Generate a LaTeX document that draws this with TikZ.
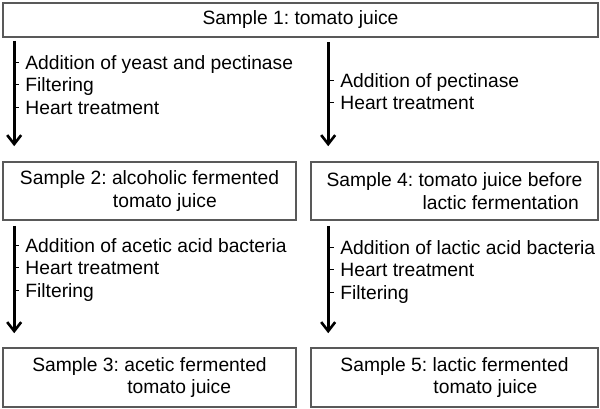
\documentclass[tikz,border=0pt]{standalone}
\usepackage{fontspec}
\setmainfont{Liberation Sans}
\usetikzlibrary{calc,arrows.meta}
\frenchspacing

\newlength{\du}
\setlength{\du}{0.5pt}
\definecolor{boxlinecolor}{rgb}{0.350000, 0.350000, 0.350000}

\tikzset{
  samplebox/.style={draw=boxlinecolor, line width=1.6\du, rectangle, inner sep=0pt,
    align=left, font=\fontsize{9.63pt}{11.25pt}\selectfont},
  flow/.style={line width=3\du, -{Straight Barb[length=4.5pt,width=7pt,line width=1.3pt]}},
  stepline/.style={anchor=base west, inner sep=0pt, font=\fontsize{9.63pt}{11.25pt}\selectfont},
  tick/.style={line width=1\du}
}

\begin{document}
\begin{tikzpicture}[x=\du,y=-\du]
\useasboundingbox (0,0) rectangle (600,408);
% sample boxes
\node[samplebox, minimum width=595\du, minimum height=34\du] (s1) at (300.5,20) {Sample 1: tomato juice};
\node[samplebox, minimum width=293\du, minimum height=58\du] (s2) at (149.5,191)
  {Sample 2: alcoholic fermented\\\hspace*{46.5pt}tomato juice};
\node[samplebox, minimum width=287\du, minimum height=58\du] (s4) at (454.5,191)
  {Sample 4: tomato juice before\\\hspace*{48pt}lactic fermentation};
\node[samplebox, minimum width=293\du, minimum height=59\du] (s3) at (149.5,377.5)
  {Sample 3: acetic fermented\\\hspace*{47.5pt}tomato juice};
\node[samplebox, minimum width=287\du, minimum height=59\du] (s5) at (454.5,377.5)
  {Sample 5: lactic fermented\\\hspace*{46.5pt}tomato juice};

% arrows
\draw[flow] ($(s1.south west)+(12,3)$) -- ($(s2.north west)+(12,-15)$);
\draw[flow] ($(s4.north west)+(18,-119)$) -- ($(s4.north west)+(18,-15)$);
\draw[flow] ($(s2.south west)+(12,5)$) -- ($(s3.north west)+(12,-14)$);
\draw[flow] ($(s4.south west)+(18,5)$) -- ($(s5.north west)+(18,-14)$);

% steps, left top
\node[stepline] (t11) at (25,69) {Addition of yeast and pectinase};
\node[stepline] (t12) at (25,91.5) {Filtering};
\node[stepline] (t13) at (25,114) {Heart treatment};
% steps, right top
\node[stepline] (t21) at (340,87) {Addition of pectinase};
\node[stepline] (t22) at (340,109.5) {Heart treatment};
% steps, left bottom
\node[stepline] (t31) at (25,252) {Addition of acetic acid bacteria};
\node[stepline] (t32) at (25,274.5) {Heart treatment};
\node[stepline] (t33) at (25,297) {Filtering};
% steps, right bottom
\node[stepline] (t41) at (340,254) {Addition of lactic acid bacteria};
\node[stepline] (t42) at (340,276.5) {Heart treatment};
\node[stepline] (t43) at (340,299) {Filtering};

% ticks
\draw[tick] ([xshift=-11\du,yshift=7\du]t11.base west) -- ++(5,0);
\draw[tick] ([xshift=-11\du,yshift=7\du]t12.base west) -- ++(5,0);
\draw[tick] ([xshift=-11\du,yshift=7\du]t13.base west) -- ++(5,0);
\draw[tick] ([xshift=-11\du,yshift=7\du]t21.base west) -- ++(5,0);
\draw[tick] ([xshift=-11\du,yshift=7\du]t22.base west) -- ++(5,0);
\draw[tick] ([xshift=-11\du,yshift=7\du]t31.base west) -- ++(5,0);
\draw[tick] ([xshift=-11\du,yshift=7\du]t32.base west) -- ++(5,0);
\draw[tick] ([xshift=-11\du,yshift=7\du]t33.base west) -- ++(5,0);
\draw[tick] ([xshift=-11\du,yshift=7\du]t41.base west) -- ++(5,0);
\draw[tick] ([xshift=-11\du,yshift=7\du]t42.base west) -- ++(5,0);
\draw[tick] ([xshift=-11\du,yshift=7\du]t43.base west) -- ++(5,0);
\end{tikzpicture}
\end{document}
